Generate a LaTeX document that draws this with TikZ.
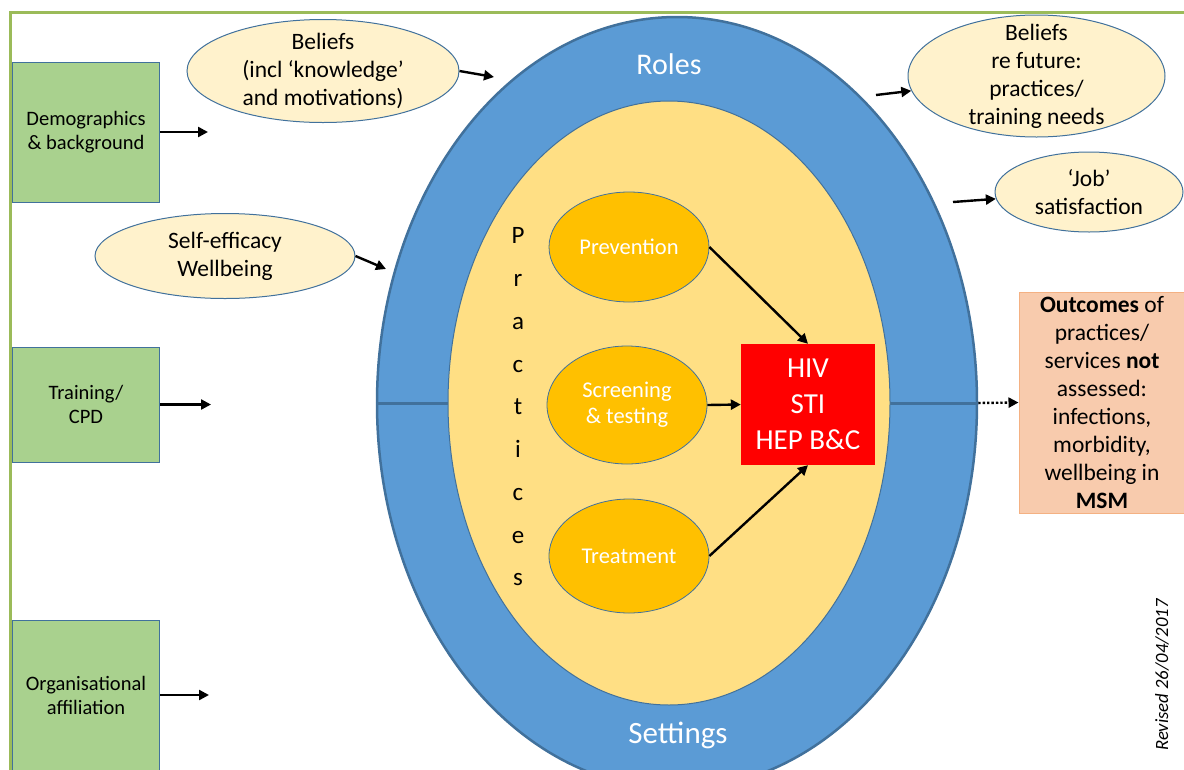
\documentclass[tikz,border=0pt]{standalone}
\usepackage{fontspec}
\setmainfont{Carlito}
\usetikzlibrary{shapes.geometric,arrows.meta,positioning}
\definecolor{frame_green}{HTML}{9BBB59}
\definecolor{box_green}{HTML}{A9D18E}
\definecolor{ring_blue}{HTML}{5B9BD5}
\definecolor{edge_blue}{HTML}{41719C}
\definecolor{core_yellow}{HTML}{FFDF84}
\definecolor{pill_orange}{HTML}{FFC000}
\definecolor{cream}{HTML}{FFF2CC}
\definecolor{peach}{HTML}{F8CBAD}
\definecolor{peach_edge}{HTML}{F4B183}
\newcommand{\fsz}[2]{\fontsize{#1}{#2}\selectfont}

\begin{document}
\begin{tikzpicture}[x=1pt, y=-1pt,
    greenbox/.style={draw=edge_blue, line width=1pt, fill=box_green, align=center,
        minimum width=147pt, font=\fsz{20.5}{24}},
    cloud/.style={ellipse, draw=edge_blue, line width=1pt, fill=cream, align=center,
        inner xsep=-10pt, inner ysep=-18pt, font=\fsz{23.5}{28}},
    pill/.style={ellipse, draw=edge_blue, line width=0.8pt, fill=pill_orange, text=white,
        align=center, inner xsep=0pt, inner ysep=-16pt, minimum width=160pt, font=\fsz{22.5}{26}},
    push/.style={-{Triangle[length=10pt,width=10pt]}, line width=2.4pt}
]
\useasboundingbox (0,0) rectangle (1184,769);
\clip (0,0) rectangle (1184,769);

% frame
\draw[frame_green, line width=3pt] (10,775) -- (10,12) -- (1190,12);

% roles / settings rings
\node[ellipse, draw=edge_blue, line width=2.5pt, fill=ring_blue, inner sep=0pt,
    minimum width=600pt, minimum height=772pt] (roles) at (677,403) {};
\draw[edge_blue, line width=3pt] (roles.west) -- (roles.east);
\node[ellipse, draw=edge_blue, line width=1pt, fill=core_yellow, inner sep=0pt,
    minimum width=442pt, minimum height=604pt] (core) at (669,403) {};
\node[text=white, font=\fsz{30}{34}] (rolestxt) at (669,64) {Roles};
\node[text=white, font=\fsz{31}{34}] (settingstxt) at (678,735) {Settings};
\node[align=center, font=\fsz{25}{42.75}] (practices) at (518,407)
    {P\\r\\a\\c\\t\\i\\c\\e\\s};

% practices
\node[pill, minimum height=110pt] (prev) at (629,247) {Prevention};
\node[pill, minimum height=118pt] (screen) at (627,405) {Screening\\\& testing};
\node[pill, minimum height=114pt] (treat) at (629,556) {Treatment};
\node[fill=red, text=white, align=center, minimum width=134pt, minimum height=121pt,
    inner sep=0pt, font=\fsz{29}{36}] (hiv) at (808,404.5) {HIV\\STI\\HEP B\&C};
\draw[push] (prev.east) -- (hiv.north);
\draw[push] (screen.east) -- (hiv.west);
\draw[push] (treat.east) -- (hiv.south);

% left side inputs
\node[greenbox, minimum height=140pt] (demo) at (86,132) {Demographics\\\& background};
\node[greenbox, minimum height=115pt] (train) at (86,404.5) {Training/\\CPD};
\node[greenbox, minimum height=150pt] (org) at (86,695) {Organisational\\affiliation};
\coordinate (demoend) at (208,132);
\coordinate (trainend) at (211,404.5);
\coordinate (orgend) at (209,695);
\draw[push] (demo.east) -- (demoend);
\draw[push] (train.east) -- (trainend);
\draw[push] (org.east) -- (orgend);

\node[cloud, minimum width=272pt, minimum height=103pt] (beliefs) at (323,71)
    {Beliefs\\(incl ‘knowledge’\\and motivations)};
\node[cloud, minimum width=260pt, minimum height=85pt] (selfeff) at (225,256)
    {Self-efficacy\\Wellbeing};
\coordinate (beliefsend) at (494,77);
\coordinate (selfeffend) at (386,269);
\draw[push] (beliefs.east) -- (beliefsend);
\draw[push] (selfeff.east) -- (selfeffend);

% right side outcomes
\node[cloud, minimum width=257pt, minimum height=122pt] (future) at (1036.5,76)
    {Beliefs\\re future:\\practices/\\training needs};
\node[cloud, minimum width=188pt, minimum height=80pt] (job) at (1089,192)
    {‘Job’\\satisfaction};
\coordinate (futurestart) at (876,95);
\coordinate (jobstart) at (953,202);
\draw[push] (futurestart) -- (future);
\draw[push] (jobstart) -- (job);

\node[draw=peach_edge, line width=1pt, fill=peach, align=center, minimum width=166pt,
    minimum height=221pt, inner sep=0pt, font=\fsz{23.5}{28}] (outcome) at (1102,402.5)
    {\textbf{Outcomes} of\\practices/\\services \textbf{not}\\assessed:\\infections,\\morbidity,\\wellbeing in\\\textbf{MSM}};
\draw[push, dotted] (roles.east) -- (outcome.west);

\node[rotate=90, font=\itshape\fsz{18.7}{20}] (revised) at (1162,675) {Revised 26/04/2017};
\end{tikzpicture}
\end{document}
